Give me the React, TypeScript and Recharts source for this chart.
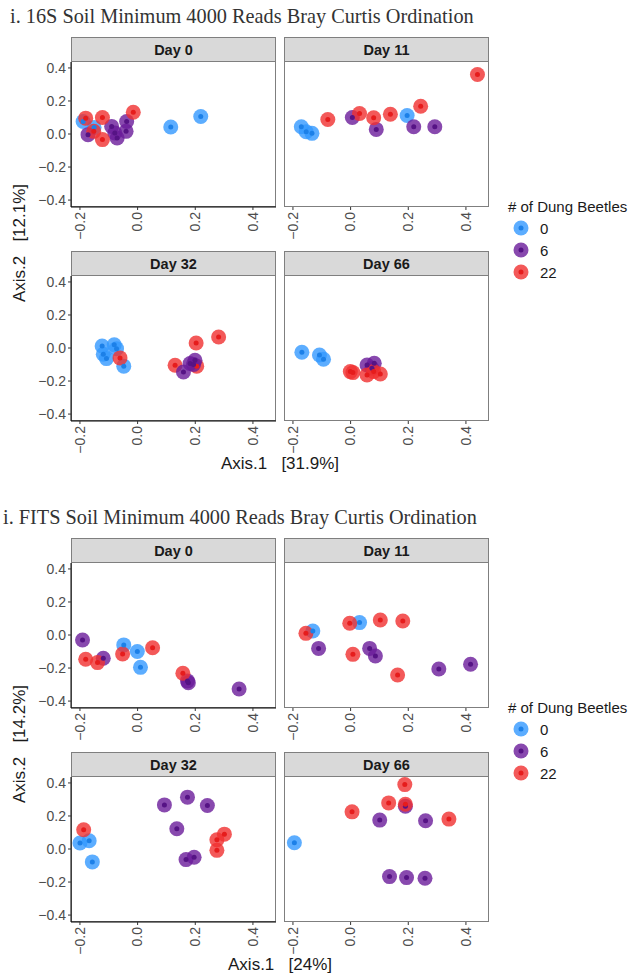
import React from "react";
import { Scatter, ScatterChart, XAxis, YAxis } from "recharts";

type Pt = { x: number; y: number; g: string };

// 16S, Bray Curtis ordination (Axis.1 / Axis.2)
const s16Day0: Pt[] = [
  { x: -0.189, y: 0.076, g: "0" },
  { x: -0.151, y: 0.04, g: "0" },
  { x: 0.115, y: 0.042, g: "0" },
  { x: 0.219, y: 0.106, g: "0" },
  { x: -0.172, y: -0.004, g: "6" },
  { x: -0.09, y: 0.046, g: "6" },
  { x: -0.079, y: 0.006, g: "6" },
  { x: -0.071, y: -0.024, g: "6" },
  { x: -0.038, y: 0.076, g: "6" },
  { x: -0.04, y: 0.016, g: "6" },
  { x: -0.18, y: 0.096, g: "22" },
  { x: -0.152, y: 0.016, g: "22" },
  { x: -0.122, y: 0.1, g: "22" },
  { x: -0.122, y: -0.034, g: "22" },
  { x: -0.015, y: 0.132, g: "22" },
];

const s16Day11: Pt[] = [
  { x: -0.171, y: 0.044, g: "0" },
  { x: -0.154, y: 0.014, g: "0" },
  { x: -0.134, y: 0.004, g: "0" },
  { x: 0.196, y: 0.112, g: "0" },
  { x: 0.006, y: 0.1, g: "6" },
  { x: 0.089, y: 0.028, g: "6" },
  { x: 0.219, y: 0.044, g: "6" },
  { x: 0.292, y: 0.044, g: "6" },
  { x: -0.079, y: 0.088, g: "22" },
  { x: 0.031, y: 0.124, g: "22" },
  { x: 0.08, y: 0.098, g: "22" },
  { x: 0.138, y: 0.12, g: "22" },
  { x: 0.243, y: 0.168, g: "22" },
  { x: 0.44, y: 0.36, g: "22" },
];

const s16Day32: Pt[] = [
  { x: -0.123, y: 0.012, g: "0" },
  { x: -0.081, y: 0.02, g: "0" },
  { x: -0.073, y: -0.004, g: "0" },
  { x: -0.119, y: -0.038, g: "0" },
  { x: -0.108, y: -0.064, g: "0" },
  { x: -0.048, y: -0.11, g: "0" },
  { x: -0.061, y: -0.06, g: "22" },
  { x: 0.13, y: -0.104, g: "22" },
  { x: 0.205, y: -0.11, g: "22" },
  { x: 0.203, y: 0.03, g: "22" },
  { x: 0.281, y: 0.067, g: "22" },
  { x: 0.159, y: -0.145, g: "6" },
  { x: 0.182, y: -0.094, g: "6" },
  { x: 0.199, y: -0.074, g: "6" },
  { x: 0.194, y: -0.1, g: "6" },
];

const s16Day66: Pt[] = [
  { x: -0.169, y: -0.026, g: "0" },
  { x: -0.108, y: -0.042, g: "0" },
  { x: -0.094, y: -0.068, g: "0" },
  { x: 0.057, y: -0.103, g: "6" },
  { x: 0.082, y: -0.092, g: "6" },
  { x: 0.074, y: -0.123, g: "6" },
  { x: 0.008, y: -0.149, g: "22" },
  { x: -0.001, y: -0.143, g: "22" },
  { x: 0.057, y: -0.163, g: "22" },
  { x: 0.08, y: -0.143, g: "22" },
  { x: 0.103, y: -0.157, g: "22" },
];

// FITS, Bray Curtis ordination
const itsDay0: Pt[] = [
  { x: -0.048, y: -0.06, g: "0" },
  { x: -0.001, y: -0.1, g: "0" },
  { x: 0.01, y: -0.196, g: "0" },
  { x: -0.191, y: -0.03, g: "6" },
  { x: -0.119, y: -0.141, g: "6" },
  { x: 0.176, y: -0.289, g: "6" },
  { x: 0.173, y: -0.278, g: "6" },
  { x: 0.352, y: -0.327, g: "6" },
  { x: -0.18, y: -0.147, g: "22" },
  { x: -0.139, y: -0.167, g: "22" },
  { x: -0.052, y: -0.115, g: "22" },
  { x: 0.052, y: -0.077, g: "22" },
  { x: 0.157, y: -0.232, g: "22" },
];

const itsDay11: Pt[] = [
  { x: -0.131, y: 0.024, g: "0" },
  { x: 0.031, y: 0.075, g: "0" },
  { x: -0.111, y: -0.081, g: "6" },
  { x: 0.066, y: -0.081, g: "6" },
  { x: 0.086, y: -0.127, g: "6" },
  { x: 0.306, y: -0.206, g: "6" },
  { x: 0.416, y: -0.177, g: "6" },
  { x: -0.155, y: 0.01, g: "22" },
  { x: -0.003, y: 0.071, g: "22" },
  { x: 0.008, y: -0.117, g: "22" },
  { x: 0.103, y: 0.091, g: "22" },
  { x: 0.181, y: 0.085, g: "22" },
  { x: 0.163, y: -0.242, g: "22" },
];

const itsDay32: Pt[] = [
  { x: -0.2, y: 0.036, g: "0" },
  { x: -0.168, y: 0.05, g: "0" },
  { x: -0.157, y: -0.078, g: "0" },
  { x: 0.093, y: 0.267, g: "6" },
  { x: 0.173, y: 0.314, g: "6" },
  { x: 0.242, y: 0.263, g: "6" },
  { x: 0.136, y: 0.123, g: "6" },
  { x: 0.168, y: -0.064, g: "6" },
  { x: 0.196, y: -0.05, g: "6" },
  { x: -0.187, y: 0.117, g: "22" },
  { x: 0.275, y: 0.056, g: "22" },
  { x: 0.301, y: 0.09, g: "22" },
  { x: 0.275, y: -0.008, g: "22" },
];

const itsDay66: Pt[] = [
  { x: -0.195, y: 0.038, g: "0" },
  { x: 0.101, y: 0.175, g: "6" },
  { x: 0.19, y: 0.259, g: "6" },
  { x: 0.26, y: 0.171, g: "6" },
  { x: 0.135, y: -0.167, g: "6" },
  { x: 0.194, y: -0.173, g: "6" },
  { x: 0.258, y: -0.177, g: "6" },
  { x: 0.005, y: 0.225, g: "22" },
  { x: 0.132, y: 0.279, g: "22" },
  { x: 0.188, y: 0.39, g: "22" },
  { x: 0.19, y: 0.271, g: "22" },
  { x: 0.341, y: 0.181, g: "22" },
];

const beetleGroups = ["0", "6", "22"];
const dayLabels = ["Day 0", "Day 11", "Day 32", "Day 66"];
const xTicks = [-0.2, 0, 0.2, 0.4];
const yTicks = [-0.4, -0.2, 0, 0.2, 0.4];

const haloColors: Record<string, string> = {
  "0": "#3399FF",
  "6": "#6A1B9A",
  "22": "#F03030",
};
const dotColors: Record<string, string> = {
  "0": "#1C80E8",
  "6": "#561385",
  "22": "#E61C1C",
};

const SANS = "'Liberation Sans', Arial, Helvetica, sans-serif";
const X_DOMAIN: [number, number] = [-0.231, 0.48];
const Y_DOMAIN: [number, number] = [-0.442, 0.436];
const PW = 205;
const PH = 145;
const STRIP = 25;
const Y_AXIS_W = 40;
const TOP_PAD = 8;
const COL_LEFT = [71, 284];
const ROW_TOP = [62, 276];

const fmt = (v: number) => (v < 0 ? "\u2212" : "") + Math.abs(v).toFixed(1);

const Halo = (p: any) => {
  const g = p.payload?.g ?? p.g;
  return <circle cx={p.cx} cy={p.cy} r={7.5} fill={haloColors[g]} fillOpacity={0.8} />;
};

const Dot = (p: any) => {
  const g = p.payload?.g ?? p.g;
  return <circle cx={p.cx} cy={p.cy} r={2.5} fill={dotColors[g]} />;
};

const XTick = ({ x, y, payload }: any) => (
  <text
    x={x}
    y={y}
    transform={`rotate(-90 ${x} ${y})`}
    textAnchor="end"
    dy="0.35em"
    fill="#4D4D4D"
    fontSize={14}
    fontFamily={SANS}
  >
    {fmt(payload.value)}
  </text>
);

function Panel({
  data,
  label,
  left,
  top,
  showY,
}: {
  data: Pt[];
  label: string;
  left: number;
  top: number;
  showY: boolean;
}) {
  const yW = showY ? Y_AXIS_W : 0;
  return (
    <>
      <div
        style={{
          position: "absolute",
          left,
          top: top - STRIP,
          width: PW,
          height: STRIP,
          boxSizing: "border-box",
          background: "#D9D9D9",
          border: "1px solid #7F7F7F",
          display: "flex",
          alignItems: "center",
          justifyContent: "center",
          fontFamily: SANS,
          fontWeight: "bold",
          fontSize: 14.5,
          color: "#1A1A1A",
        }}
      >
        {label}
      </div>
      <div
        style={{
          position: "absolute",
          left,
          top,
          width: PW,
          height: PH,
          boxSizing: "border-box",
          border: "1px solid #7F7F7F",
          borderTop: "none",
        }}
      />
      <div style={{ position: "absolute", left: left - yW, top: top - TOP_PAD }}>
        <ScatterChart
          width={PW + yW}
          height={PH + 40 + TOP_PAD}
          margin={{ top: TOP_PAD, right: 0, bottom: 0, left: 0 }}
        >
          <XAxis
            type="number"
            dataKey="x"
            domain={X_DOMAIN}
            ticks={xTicks}
            interval={0}
            allowDataOverflow
            height={40}
            tickSize={3}
            tickLine={{ stroke: "#333333" }}
            axisLine={showY ? { stroke: "#000000" } : false}
            tick={(props: any) => <XTick {...props} />}
          />
          <YAxis
            type="number"
            dataKey="y"
            domain={Y_DOMAIN}
            ticks={yTicks}
            interval={0}
            allowDataOverflow
            width={Y_AXIS_W}
            hide={!showY}
            tickSize={3}
            tickLine={{ stroke: "#333333" }}
            axisLine={{ stroke: "#000000" }}
            tickFormatter={fmt}
            tick={{ fill: "#4D4D4D", fontSize: 14, fontFamily: SANS }}
          />
          <Scatter data={data} shape={Halo} isAnimationActive={false} />
          <Scatter data={data} shape={Dot} isAnimationActive={false} />
        </ScatterChart>
      </div>
    </>
  );
}

function Figure({
  title,
  titleLeft,
  axis1,
  axis2,
  dy,
  panels,
}: {
  title: string;
  titleLeft: number;
  axis1: string;
  axis2: string;
  dy: number;
  panels: Pt[][];
}) {
  return (
    <>
      <div
        style={{
          position: "absolute",
          left: titleLeft,
          top: dy + 5,
          fontFamily: "'Liberation Serif', 'Times New Roman', serif",
          fontSize: 20.3,
          color: "#333333",
          whiteSpace: "nowrap",
        }}
      >
        {title}
      </div>
      {panels.map((data, i) => (
        <Panel
          key={i}
          data={data}
          label={dayLabels[i]}
          left={COL_LEFT[i % 2]}
          top={ROW_TOP[Math.floor(i / 2)] + dy}
          showY={i % 2 === 0}
        />
      ))}
      <div
        style={{
          position: "absolute",
          left: 80,
          width: 400,
          top: dy + 454,
          textAlign: "center",
          fontFamily: SANS,
          fontSize: 17,
          color: "#1A1A1A",
          whiteSpace: "pre",
        }}
      >
        {axis1}
      </div>
      <div
        style={{
          position: "absolute",
          left: 20 - 100,
          width: 200,
          top: dy + 243 - 11,
          height: 22,
          lineHeight: "22px",
          textAlign: "center",
          transform: "rotate(-90deg)",
          fontFamily: SANS,
          fontSize: 17,
          color: "#1A1A1A",
          whiteSpace: "pre",
        }}
      >
        {axis2}
      </div>
      <div
        style={{
          position: "absolute",
          left: 508,
          top: dy + 197,
          fontFamily: SANS,
          fontSize: 15,
          color: "#1A1A1A",
        }}
      >
        <div style={{ height: 20, lineHeight: "20px", whiteSpace: "nowrap" }}>
          # of Dung Beetles
        </div>
        {beetleGroups.map((g) => (
          <div
            key={g}
            style={{ display: "flex", alignItems: "center", height: 22 }}
          >
            <svg width={26} height={22}>
              <circle cx={13} cy={11} r={7.5} fill={haloColors[g]} fillOpacity={0.8} />
              <circle cx={13} cy={11} r={2.5} fill={dotColors[g]} />
            </svg>
            <span style={{ marginLeft: 6 }}>{g}</span>
          </div>
        ))}
      </div>
    </>
  );
}

export default function App() {
  return (
    <div
      style={{
        position: "absolute",
        left: 0,
        top: 0,
        width: 634,
        height: 980,
        background: "#FFFFFF",
        overflow: "hidden",
      }}
    >
      <Figure
        title="i. 16S Soil Minimum 4000 Reads Bray Curtis Ordination"
        titleLeft={10}
        axis1={"Axis.1   [31.9%]"}
        axis2={"Axis.2   [12.1%]"}
        dy={0}
        panels={[s16Day0, s16Day11, s16Day32, s16Day66]}
      />
      <Figure
        title="i. FITS Soil Minimum 4000 Reads Bray Curtis Ordination"
        titleLeft={3}
        axis1={"Axis.1   [24%]"}
        axis2={"Axis.2   [14.2%]"}
        dy={501}
        panels={[itsDay0, itsDay11, itsDay32, itsDay66]}
      />
    </div>
  );
}
